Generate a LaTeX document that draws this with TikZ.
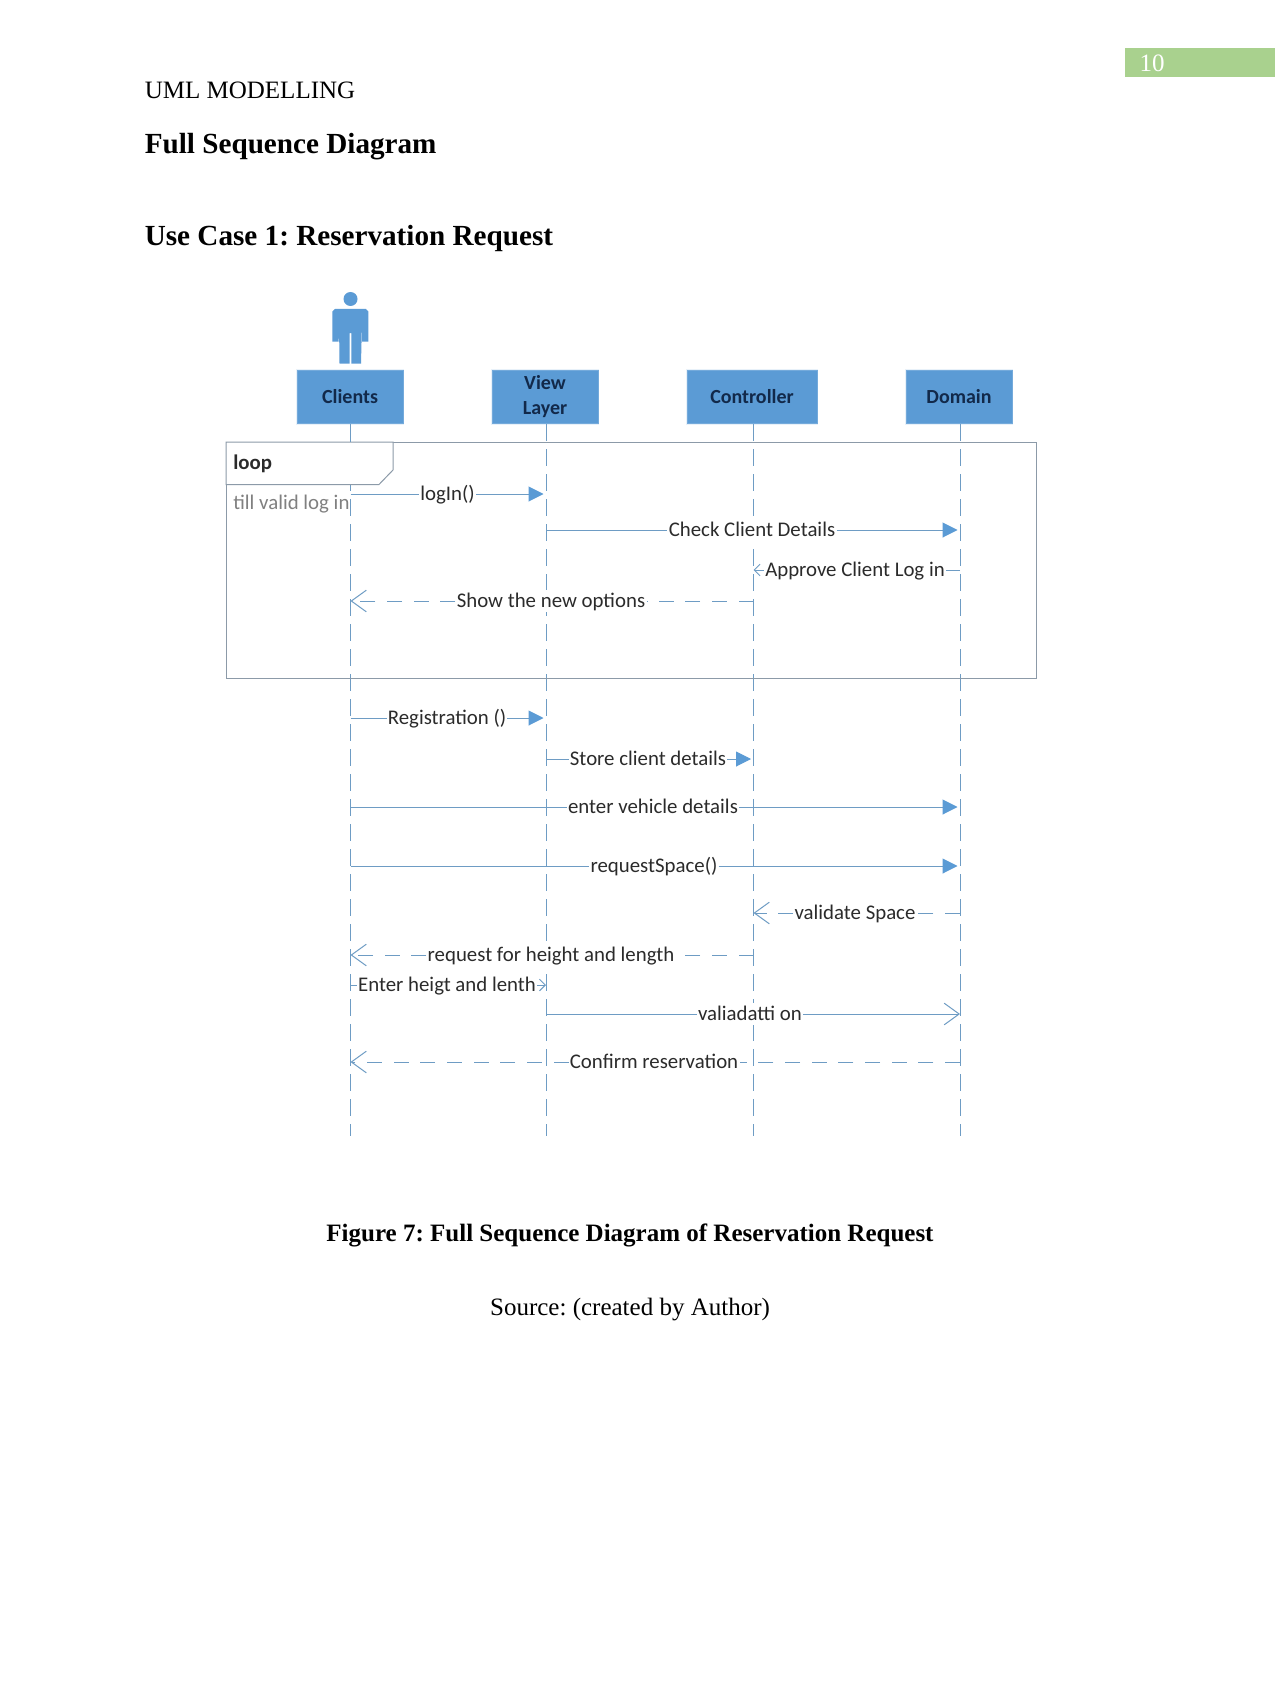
\documentclass[tikz,border=0pt]{standalone}
\usepackage{fontspec}
\setmainfont{Liberation Serif}
\newfontfamily\carlito{Carlito}
\usetikzlibrary{arrows.meta}
\definecolor{uml}{HTML}{5B9BD5}
\definecolor{lifeln}{HTML}{6E9CC4}
\definecolor{framec}{HTML}{8C9AA8}
\definecolor{ink}{HTML}{2B2B2B}
\definecolor{navy}{HTML}{12294A}
\definecolor{pagegreen}{HTML}{A9D18E}
\tikzset{
  x=0.6pt,y=-0.6pt,
  pagetext/.style={anchor=west,inner sep=0pt,font=\fontsize{15}{18}\selectfont,text=black},
  pagehead/.style={anchor=west,inner sep=0pt,font=\fontsize{17.5}{21}\selectfont\bfseries,text=black},
  pagecentre/.style={inner sep=0pt,font=\fontsize{15}{18}\selectfont,text=black},
  actorbox/.style={fill=uml,draw=uml!85!white,line width=0.5pt,minimum height=32pt,inner sep=0pt,align=center,
    preaction={draw=uml!14,line width=1.6pt},
    font=\carlito\bfseries\fontsize{12}{14}\selectfont,text=navy},
  lifeline/.style={draw=lifeln,line width=0.55pt,dash pattern=on 10pt off 5pt},
  umlframe/.style={draw=framec,line width=0.6pt},
  lbl/.style={fill=white,inner sep=0.6pt,text height=10pt,text depth=1.9pt,font=\carlito\fontsize{12.5}{14}\selectfont,text=ink},
  msg/.style={draw=lifeln,line width=0.6pt},
  ret/.style={draw=lifeln,line width=0.6pt,dash pattern=on 9pt off 7pt},
  solidtip/.style={-{Triangle[length=9pt,width=9pt,fill=uml,color=uml]},shorten >=1.5pt},
  opentip/.style={-{Straight Barb[length=9pt,width=13pt,color=lifeln,line width=0.6pt]}},
  smalltip/.style={-{Straight Barb[length=3.5pt,width=7pt,color=lifeln,line width=0.6pt]}},
}
\begin{document}
\frenchspacing
\begin{tikzpicture}
\useasboundingbox (0,0) rectangle (1275,1703);
\fill[white] (0,0) rectangle (1275,1703);
% page furniture
\fill[pagegreen] (1125,48) rectangle (1275,77);
\node[inner sep=0pt,font=\fontsize{15}{18}\selectfont,text=white] (pgn) at (1152,63) {10};
\node[pagetext] (running) at (144.5,90) {UML MODELLING};
\node[pagehead] (head1) at (144.5,146.5) {Full Sequence Diagram};
\node[pagehead] (head2) at (144.5,238.5) {Use Case 1: Reservation Request};
\node[pagecentre,font=\fontsize{15}{18}\selectfont\bfseries] (caption) at (630,1235) {Figure 7: Full Sequence Diagram of Reservation Request};
\node[pagecentre] (source) at (630,1309.5) {Source: (created by Author)};
% actor
\fill[uml] (350.5,299) circle[radius=7];
\fill[uml] (335,309) -- (366,309) -- (368.3,311.5) -- (368.3,341.5) -- (362,341.5) -- (362,322)
  -- (361,363.5) -- (351.3,363.5) -- (351.3,333) -- (349.7,333) -- (349.7,363.5) -- (339.5,363.5)
  -- (339,322) -- (338.7,341.5) -- (332.3,341.5) -- (332.3,311.5) -- cycle;
% actor boxes
\node[actorbox,minimum width=63.6pt] (clients) at (350,397) {\raisebox{1.2pt}{Clients}};
\node[actorbox,minimum width=63.6pt] (view) at (545,397) {\raisebox{0.6pt}{View}\\[1pt]\raisebox{0.6pt}{Layer}};
\node[actorbox,minimum width=78pt] (controller) at (752,397) {\raisebox{1.2pt}{Controller}};
\node[actorbox,minimum width=63.6pt] (domain) at (959,397) {\raisebox{1.2pt}{Domain}};
% lifelines
\coordinate (cl) at (350.5,424); \coordinate (cle) at (350.5,1136);
\coordinate (vl) at (546,424); \coordinate (vle) at (546,1136);
\coordinate (ctl) at (753.5,424); \coordinate (ctle) at (753.5,1136);
\coordinate (dl) at (960,424); \coordinate (dle) at (960,1136);
\draw[lifeline] (cl) -- (cle);
\draw[lifeline] (vl) -- (vle);
\draw[lifeline] (ctl) -- (ctle);
\draw[lifeline] (dl) -- (dle);
% frame
\draw[umlframe] (226,442) rectangle (1036,678);
\draw[umlframe,fill=white] (226,442) -- (393,442) -- (393,470) -- (379,484.5) -- (226,484.5) -- cycle;
\draw[msg] (cl) -- (350.5,442);
\node[anchor=west,inner sep=0pt,font=\carlito\bfseries\fontsize{12.5}{14}\selectfont,text=ink] (looplbl) at (233,463.5) {loop};
\node[anchor=west,inner sep=0pt,font=\carlito\fontsize{12.5}{14}\selectfont,text=gray,fill=white] (guard) at (233,504.5) {till valid log in};
% messages
\node[lbl] (m1) at (447.5,494) {logIn()};
\draw[msg] (cl |- m1) -- (m1);
\draw[msg,solidtip] (m1) -- (vl |- m1);
\node[lbl] (m2) at (752,530) {Check Client Details};
\draw[msg] (vl |- m2) -- (m2);
\draw[msg,solidtip] (m2) -- (dl |- m2);
\node[lbl] (m3) at (855,570) {Approve Client Log in};
\draw[msg] (dl |- m3) -- (m3);
\draw[msg,smalltip] (m3) -- (ctl |- m3);
\node[lbl] (m4) at (551,601) {Show the new options};
\draw[ret] (ctl |- m4) -- (m4);
\draw[ret,opentip] (m4) -- (cl |- m4);
\node[lbl] (m5) at (447,718) {Registration ()};
\draw[msg] (cl |- m5) -- (m5);
\draw[msg,solidtip] (m5) -- (vl |- m5);
\node[lbl] (m6) at (648,759) {Store client details};
\draw[msg] (vl |- m6) -- (m6);
\draw[msg,solidtip] (m6) -- (ctl |- m6);
\node[lbl] (m7) at (653,807) {enter vehicle details};
\draw[msg] (cl |- m7) -- (m7);
\draw[msg,solidtip] (m7) -- (dl |- m7);
\node[lbl] (m8) at (654,866) {requestSpace()};
\draw[msg] (cl |- m8) -- (m8);
\draw[msg,solidtip] (m8) -- (dl |- m8);
\node[lbl] (m9) at (855,913) {validate Space};
\draw[ret] (dl |- m9) -- (m9);
\draw[ret,opentip] (m9) -- (ctl |- m9);
\node[lbl] (m10) at (551,955) {request for height and length};
\draw[ret] (ctl |- m10) -- (m10);
\draw[ret,opentip] (m10) -- (cl |- m10);
\node[lbl] (m11) at (447,985) {Enter heigt and lenth};
\draw[msg] (cl |- m11) -- (m11);
\draw[msg,smalltip] (m11) -- (vl |- m11);
\node[lbl] (m12) at (750,1014) {valiadatti on};
\draw[msg] (vl |- m12) -- (m12);
\draw[msg,opentip] (m12) -- (dl |- m12);
\node[lbl] (m13) at (654,1062) {Confirm reservation};
\draw[ret] (dl |- m13) -- (m13);
\draw[ret,opentip] (m13) -- (cl |- m13);
\end{tikzpicture}
\end{document}
